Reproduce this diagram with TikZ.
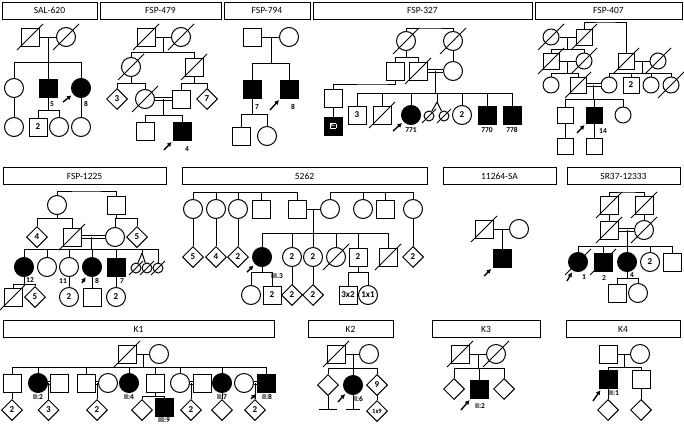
\documentclass[tikz,border=0pt]{standalone}
\usepackage{fontspec}
\setmainfont{Carlito}
\usetikzlibrary{arrows.meta,calc,shapes.geometric}

\begin{document}
\begin{tikzpicture}[x=1pt, y=-1pt, line width=1pt,
  male/.style={draw, rectangle, minimum size=18pt, inner sep=0pt, font=\fontsize{9}{9}\selectfont\bfseries},
  female/.style={draw, circle, minimum size=19pt, inner sep=0pt, font=\fontsize{9}{9}\selectfont\bfseries},
  unknown/.style={draw, diamond, minimum size=21pt, inner sep=0pt, font=\fontsize{9}{9}\selectfont\bfseries},
  twin/.style={draw, circle, minimum size=10pt, inner sep=0pt},
  compact/.style={minimum size=16pt},
  affected/.style={fill=black},
  family/.style={draw, line width=1pt, minimum height=17pt, inner sep=0pt, font=\fontsize{9.5}{9.5}\selectfont},
  tag/.style={inner sep=0pt, font=\fontsize{7.5}{7.5}\selectfont\bfseries},
  mate/.style={double, double distance=1.6pt, line width=0.8pt},
  proband/.style={-{Latex[length=4.5pt,width=5pt]}, line width=1.4pt, shorten >=2pt}
]
\useasboundingbox (0,0) rectangle (684,423);

\node[family, minimum width=95pt] (sal) at (49.5,10.5) {SAL-620};
\node[family, minimum width=121pt] (fsp479) at (160.5,10.5) {FSP-479};
\node[family, minimum width=86pt] (fsp794) at (267,10.5) {FSP-794};
\node[family, minimum width=219pt] (fsp327) at (422.5,10.5) {FSP-327};
\node[family, minimum width=147pt] (fsp407) at (608.5,10.5) {FSP-407};
\node[family, minimum width=163pt] (fsp1225) at (84.5,176) {FSP-1225};
\node[family, minimum width=245pt] (fam5262) at (304.5,176) {5262};
\node[family, minimum width=113pt] (sa) at (499.5,176) {11264-SA};
\node[family, minimum width=113pt] (sr) at (623.5,176) {SR37-12333};
\node[family, minimum width=271pt] (kone) at (138.5,329) {K1};
\node[family, minimum width=85pt] (ktwo) at (350.5,329) {K2};
\node[family, minimum width=108pt] (kthree) at (486,329) {K3};
\node[family, minimum width=114pt] (kfour) at (623,329) {K4};

\node[male] (a1) at (30,37) {};
\node[female] (a2) at (66,37) {};
\coordinate (am) at (48,37);
\coordinate (as) at (48,62);
\node[female] (a3) at (14,88) {};
\node[male, affected] (a4) at (48,88) {};
\node[female, affected] (a5) at (81,88) {};
\coordinate (ak) at (48,110);
\node[female] (a6) at (14,127) {};
\node[male] (a7) at (38,127) {2};
\node[female] (a8) at (59,127) {};
\node[female] (a9) at (81,127) {};
\node[tag] (a4t) at (52,104) {5};
\node[tag] (a5t) at (86,104) {8};
\draw (a1) -- (a2);
\draw (am) -- (as);
\draw (as) -| (a3); \draw (as) -| (a4); \draw (as) -| (a5);
\draw (a3) -- (a6);
\draw (a4) -- (ak); \draw (ak) -| (a7); \draw (ak) -| (a8);
\draw (a5) -- (a9);
\draw[proband] ($(a5)+(-18,14)$) -- (a5);

\node[male] (b1) at (146,37) {};
\node[female] (b2) at (181,37) {};
\coordinate (bm) at (163,37);
\coordinate (bs) at (163,52);
\node[female] (b3) at (131,67) {};
\node[male] (b4) at (194,67) {};
\coordinate (bs3) at (131,83);
\coordinate (bs4) at (194,83);
\node[unknown] (b5) at (117,99) {3};
\node[female] (b6) at (145,99) {};
\node[male] (b7) at (181,99) {};
\node[unknown] (b8) at (207,99) {7};
\coordinate (bm2) at (163,99);
\coordinate (bs2) at (163,115);
\node[male] (b9) at (145,131) {};
\node[male, affected] (b10) at (182,131) {};
\node[tag] (b10t) at (187,149) {4};
\draw (b1) -- (b2);
\draw (bm) -- (bs);
\draw (bs) -| (b3); \draw (bs) -| (b4);
\draw (b3) -- (bs3); \draw (bs3) -| (b5); \draw (bs3) -| (b6);
\draw (b4) -- (bs4); \draw (bs4) -| (b7); \draw (bs4) -| (b8);
\draw[mate] (b6) -- (b7);
\draw (bm2) -- (bs2);
\draw (bs2) -| (b9); \draw (bs2) -| (b10);
\draw[proband] ($(b10)+(-18,19)$) -- (b10);

\node[male] (c1) at (252,37) {};
\node[female] (c2) at (289,37) {};
\coordinate (cm) at (271,37);
\coordinate (cs) at (271,63);
\node[male, affected] (c3) at (252,89) {};
\node[male, affected] (c4) at (289,89) {};
\coordinate (cs3) at (252,114);
\node[male] (c5) at (241,136) {};
\node[female] (c6) at (267,136) {};
\node[tag] (c3t) at (257,107) {7};
\node[tag] (c4t) at (293,107) {8};
\draw (c1) -- (c2);
\draw (cm) -- (cs);
\draw (cs) -| (c3); \draw (cs) -| (c4);
\draw (c3) -- (cs3); \draw (cs3) -| (c5); \draw (cs3) -| (c6);
\draw[proband] ($(c4)+(-19,21)$) -- (c4);

\node[female] (d1) at (406,41) {};
\node[female] (d2) at (453,41) {};
\coordinate (dt) at (430,28);
\coordinate (ds1) at (406,57);
\node[male] (d3) at (395,71) {};
\node[male] (d4) at (418,71) {};
\node[female] (d5) at (453,71) {};
\coordinate (dm) at (435,71);
\coordinate (ds) at (435,93);
\coordinate (dc) at (380,84);
\node[male] (d14) at (333,98) {};
\node[male, affected] (d15) at (333,126) {\color{white}\setlength{\fboxsep}{0.6pt}\fbox{\rotatebox{90}{\fontsize{6}{6}\selectfont 7}}};
\node[male] (d6) at (357,115) {3};
\node[male] (d7) at (382,115) {};
\node[female, affected] (d8) at (411,115) {};
\coordinate (dtw) at (437,102);
\node[twin] (d9) at (429,116) {};
\node[twin] (d10) at (444,116) {};
\node[female] (d11) at (462,115) {2};
\node[male, affected] (d12) at (487,115) {};
\node[male, affected] (d13) at (512,115) {};
\node[tag] (d8t) at (411,130) {771};
\node[tag] (d12t) at (487,130) {770};
\node[tag] (d13t) at (512,130) {778};
\draw (d1) |- (dt) -| (d2);
\draw (d1) -- (ds1); \draw (ds1) -| (d3); \draw (ds1) -| (d4);
\draw (d2) -- (d5);
\draw[mate, line width=1.2pt] (d4) -- (d5);
\draw (dm) -- (ds);
\draw (d3) |- (dc) -| (d14);
\draw (d14) -- (d15);
\draw (ds) -| (d6); \draw (ds) -| (d7); \draw (ds) -| (d8);
\draw (ds) -| (dtw); \draw (dtw) -- (d9); \draw (dtw) -- (d10);
\draw (ds) -| (d11); \draw (ds) -| (d12); \draw (ds) -| (d13);
\draw[proband] ($(d8)+(-18,16)$) -- (d8);

\node[female, compact] (e1) at (551,37) {};
\node[male, compact] (e2) at (584,37) {};
\coordinate (em) at (567,37);
\coordinate (es) at (567,49);
\node[male, compact] (e3) at (551,61) {};
\node[female, compact] (e4) at (584,61) {};
\coordinate (em1) at (567,61);
\coordinate (es1) at (567,73);
\coordinate (et) at (605,22);
\node[male, compact] (e5) at (626,61) {};
\node[female, compact] (e6) at (658,61) {};
\coordinate (em2) at (642,61);
\coordinate (es2) at (642,73);
\node[female, compact] (e11) at (551,85) {};
\node[male, compact] (e12) at (578,85) {};
\node[female, compact] (e7) at (609,85) {};
\node[male, compact] (e8) at (631,85) {2};
\node[female, compact] (e9) at (651,85) {};
\node[female, compact] (e10) at (671,85) {};
\coordinate (em3) at (593,85);
\coordinate (es3) at (593,99);
\node[male, compact] (e13) at (565,115) {};
\node[male, compact, affected] (e14) at (594,115) {};
\node[female, compact] (e15) at (623,115) {};
\node[male, compact] (e16) at (565,146) {};
\node[male, compact] (e17) at (594,146) {};
\node[tag] (e14t) at (603,131) {14};
\draw (e1) -- (e2);
\draw (em) -- (es); \draw (es) -| (e3); \draw (es) -| (e4);
\draw (e3) -- (e4);
\draw (em1) -- (es1); \draw (es1) -| (e11); \draw (es1) -| (e12);
\draw (e2) |- (et) -| (e5);
\draw (e5) -- (e6);
\draw (em2) -- (es2);
\draw (es2) -| (e7); \draw (es2) -| (e8); \draw (es2) -| (e9); \draw (es2) -| (e10);
\draw[mate] (e12) -- (e7);
\draw (em3) -- (es3);
\draw (es3) -| (e13); \draw (es3) -| (e14); \draw (es3) -| (e15);
\draw (e13) -- (e16); \draw (e14) -- (e17);
\draw[proband] ($(e14)+(-17,18)$) -- (e14);

\node[female] (f1) at (57,205) {};
\node[male] (f2) at (116,205) {};
\coordinate (ft) at (86,191);
\coordinate (fs1) at (57,218);
\coordinate (fs2) at (116,218);
\node[unknown] (f3) at (37,237) {4};
\node[male] (f4) at (72,237) {};
\node[female] (f5) at (115,237) {};
\node[unknown] (f6) at (137,237) {5};
\coordinate (fm) at (91,237);
\coordinate (fs) at (91,249);
\node[female, affected] (f7) at (24,267) {};
\node[female] (f8) at (47,267) {};
\node[female] (f9) at (69,267) {};
\node[female, affected] (f10) at (92,267) {};
\node[male, affected] (f11) at (116,267) {};
\coordinate (ftw) at (142,253);
\node[twin] (f12) at (136,268) {};
\node[twin] (f13) at (147,268) {};
\node[twin] (f14) at (158,268) {};
\coordinate (fs7) at (24,284);
\node[male] (f15) at (13,297) {};
\node[unknown] (f16) at (35,297) {5};
\node[female] (f17) at (69,297) {2};
\node[male] (f18) at (92,297) {};
\node[female] (f19) at (116,297) {2};
\node[tag] (f7t) at (30,280) {12};
\node[tag] (f9t) at (63,281) {11};
\node[tag] (f10t) at (97,281) {8};
\node[tag] (f11t) at (122,281) {7};
\draw (f1) |- (ft) -| (f2);
\draw (f1) -- (fs1); \draw (fs1) -| (f3); \draw (fs1) -| (f4);
\draw (f2) -- (fs2); \draw (fs2) -| (f5); \draw (fs2) -| (f6);
\draw[mate] (f4) -- (f5);
\draw (fm) -- (fs);
\draw (fs) -| (f7); \draw (fs) -| (f8); \draw (fs) -| (f9); \draw (fs) -| (f10); \draw (fs) -| (f11);
\draw (fs) -| (ftw); \draw (ftw) -- (f12); \draw (ftw) -- (f13);
\draw (fs) -| (f14);
\draw (f7) -- (fs7); \draw (fs7) -| (f15); \draw (fs7) -| (f16);
\draw (f9) -- (f17); \draw (f10) -- (f18); \draw (f11) -- (f19);
\draw[proband] ($(f10)+(-10,16)$) -- (f10);

\node[female] (g1) at (193,209) {};
\node[female] (g2) at (216,209) {};
\node[female] (g3) at (238,209) {};
\node[male] (g4) at (261,209) {};
\node[male] (g5) at (297,209) {};
\node[female] (g6) at (330,209) {};
\node[female] (g7) at (363,209) {};
\node[male] (g8) at (385,209) {};
\node[female] (g9) at (413,209) {};
\coordinate (gt1) at (245,192);
\coordinate (gt2) at (370,192);
\coordinate (gm) at (313,209);
\coordinate (gs) at (313,233);
\node[unknown] (g10) at (193,257) {5};
\node[unknown] (g11) at (216,257) {4};
\node[unknown] (g12) at (238,257) {2};
\node[female, affected] (g13) at (262,257) {};
\node[female] (g14) at (292,257) {2};
\node[female] (g15) at (313,257) {2};
\node[female] (g16) at (336,257) {};
\node[male] (g17) at (358,257) {2};
\node[male] (g18) at (388,257) {};
\node[unknown] (g19) at (413,257) {2};
\coordinate (gs13) at (262,272);
\coordinate (gs17) at (358,272);
\node[female] (g20) at (251,295) {};
\node[male] (g21) at (272,295) {2};
\node[unknown] (g22) at (292,295) {2};
\node[unknown] (g23) at (313,295) {2};
\node[male] (g24) at (348,295) {3x2};
\node[female] (g25) at (368,295) {1x1};
\node[tag] (g13t) at (277,276) {III.3};
\foreach \n in {g1,g2,g3,g4,g5} \draw (gt1) -| (\n);
\foreach \n in {g6,g7,g8,g9} \draw (gt2) -| (\n);
\draw (g5) -- (g6);
\draw (gm) -- (gs);
\foreach \n in {g13,g14,g15,g16,g17,g18} \draw (gs) -| (\n);
\draw (g1) -- (g10); \draw (g2) -- (g11); \draw (g3) -- (g12); \draw (g9) -- (g19);
\draw (g13) -- (gs13); \draw (gs13) -| (g20); \draw (gs13) -| (g21);
\draw (g14) -- (g22); \draw (g15) -- (g23);
\draw (g17) -- (gs17); \draw (gs17) -| (g24); \draw (gs17) -| (g25);
\draw[proband] ($(g13)+(-15,15)$) -- (g13);

\node[male] (h1) at (484,229) {};
\node[female] (h2) at (519,229) {};
\coordinate (hm) at (502,229);
\node[male, affected] (h3) at (502,258) {};
\draw (h1) -- (h2);
\draw (hm) -- (h3);
\draw[proband] ($(h3)+(-18,18)$) -- (h3);

\node[male] (r1) at (609,205) {};
\node[male] (r2) at (644,205) {};
\coordinate (rt) at (627,192);
\node[male] (r3) at (609,230) {};
\node[female] (r4) at (644,230) {};
\coordinate (rm) at (627,230);
\coordinate (rs) at (627,246);
\node[female, affected] (r5) at (578,262) {};
\node[male, affected] (r6) at (603,262) {};
\node[female, affected] (r7) at (627,262) {};
\node[female] (r8) at (650,262) {2};
\node[male] (r9) at (672,262) {};
\coordinate (rs7) at (627,278);
\node[male] (r10) at (617,293) {};
\node[female] (r11) at (638,293) {};
\node[tag] (r5t) at (584,277) {1};
\node[tag] (r6t) at (604,278) {2};
\node[tag] (r7t) at (632,275) {4};
\draw (r1) |- (rt) -| (r2);
\draw (r1) -- (r3); \draw (r2) -- (r4);
\draw[mate] (r3) -- (r4);
\draw (rm) -- (rs);
\foreach \n in {r5,r6,r7,r8,r9} \draw (rs) -| (\n);
\draw (r7) -- (rs7); \draw (rs7) -| (r10); \draw (rs7) -| (r11);
\draw[proband] ($(r5)+(-11,19)$) -- (r5);

\node[male] (k1) at (127,354) {};
\node[female] (k2) at (159,354) {};
\coordinate (km) at (143,354);
\coordinate (ks) at (143,367);
\node[male] (k3) at (12,383) {};
\node[female, affected] (k4) at (38,383) {};
\node[male] (k5) at (59,383) {};
\node[male] (k6) at (86,383) {};
\node[female] (k7) at (108,383) {};
\node[female, affected] (k8) at (129,383) {};
\node[male] (k9) at (155,383) {};
\node[female] (k10) at (180,383) {};
\node[male] (k11) at (202,383) {};
\node[female, affected] (k12) at (222,383) {};
\node[female] (k13) at (244,383) {};
\node[male, affected] (k14) at (266,383) {};
\coordinate (k45) at (48.5,383);
\coordinate (k67) at (97,383);
\coordinate (k1011) at (191,383);
\coordinate (k1314) at (255,383);
\coordinate (kc9) at (155,396);
\node[unknown] (k15) at (12,410) {2};
\node[unknown] (k16) at (48.5,410) {3};
\node[unknown] (k17) at (97,410) {2};
\node[unknown] (k18) at (142,410) {};
\node[male, affected] (k19) at (164,407) {};
\node[unknown] (k20) at (191,410) {2};
\node[unknown] (k21) at (222,410) {};
\node[unknown] (k22) at (255,410) {2};
\node[tag] (k4t) at (38,397) {II:2};
\node[tag] (k8t) at (129,397) {II:4};
\node[tag] (k19t) at (164,420) {III:9};
\node[tag] (k12t) at (222,397) {II:7};
\node[tag] (k14t) at (267,397) {II:8};
\draw (k1) -- (k2);
\draw (km) -- (ks);
\foreach \n in {k3,k4,k6,k8,k9,k10,k12,k14} \draw (ks) -| (\n);
\draw[mate] (k4) -- (k5); \draw[mate] (k6) -- (k7);
\draw[mate] (k10) -- (k11); \draw[mate] (k13) -- (k14);
\draw (k3) -- (k15); \draw (k45) -- (k16); \draw (k67) -- (k17);
\draw (k9) -- (kc9); \draw (kc9) -| (k18); \draw (kc9) -| (k19);
\draw (k1011) -- (k20); \draw (k12) -- (k21); \draw (k1314) -- (k22);
\draw[proband] ($(k14)+(-15,16)$) -- (k14);

\node[male] (q1) at (336,354) {};
\node[female] (q2) at (369,354) {};
\coordinate (qm) at (353,354);
\coordinate (qs) at (353,368);
\node[unknown] (q3) at (328,385) {};
\node[female, affected] (q4) at (353,385) {};
\node[unknown] (q5) at (377,385) {9};
\node[unknown] (q6) at (377,411) {\fontsize{6.5}{6.5}\selectfont 1x9};
\coordinate (qb3) at (328,409);
\coordinate (qb4) at (353,409);
\node[tag] (q4t) at (358,399) {II:6};
\draw (q1) -- (q2);
\draw (qm) -- (qs);
\draw (qs) -| (q3); \draw (qs) -| (q4); \draw (qs) -| (q5);
\draw (q3) -- (qb3); \draw ($(qb3)+(-9,0)$) -- ($(qb3)+(9,0)$);
\draw (q4) -- (qb4); \draw ($(qb4)+(-7,0)$) -- ($(qb4)+(7,0)$);
\draw (q5) -- (q6);
\draw[proband] ($(q4)+(-15,17)$) -- (q4);

\node[male] (t1) at (460,354) {};
\node[female] (t2) at (496,354) {};
\coordinate (tm) at (478,354);
\coordinate (ts) at (478,368);
\node[unknown] (t3) at (454,389) {};
\node[male, affected] (t4) at (479,389) {};
\node[unknown] (t5) at (504,389) {};
\node[tag] (t4t) at (480,406) {II:2};
\draw (t1) -- (t2);
\draw (tm) -- (ts);
\draw (ts) -| (t3); \draw (ts) -| (t4); \draw (ts) -| (t5);
\draw[proband] ($(t4)+(-18,21)$) -- (t4);

\node[male] (w1) at (608,354) {};
\node[female] (w2) at (640,354) {};
\coordinate (wm) at (624,354);
\coordinate (ws) at (624,367);
\node[male, affected] (w3) at (608,379) {};
\node[male] (w4) at (641,379) {};
\node[unknown] (w5) at (608,410) {};
\node[unknown] (w6) at (641,410) {};
\node[tag] (w3t) at (614,393) {II:1};
\draw (w1) -- (w2);
\draw (wm) -- (ws);
\draw (ws) -| (w3); \draw (ws) -| (w4);
\draw (w3) -- (w5); \draw (w4) -- (w6);
\draw[proband] ($(w3)+(-15,22)$) -- (w3);

\foreach \n in {a1,a2,b1,b2,b3,b4,b6,d1,d2,d4,d7,e1,e2,e3,e4,e5,e6,e10,e12,f4,f15,g16,g18,h1,r1,r2,r3,r4,r5,r6,k1,q1,t1,t2}
  \draw ($(\n)+(-13,13)$) -- ($(\n)+(13,-13)$);
\foreach \n in {d9,d10,f12,f13,f14}
  \draw ($(\n)+(-7,7)$) -- ($(\n)+(7,-7)$);
\end{tikzpicture}
\end{document}
